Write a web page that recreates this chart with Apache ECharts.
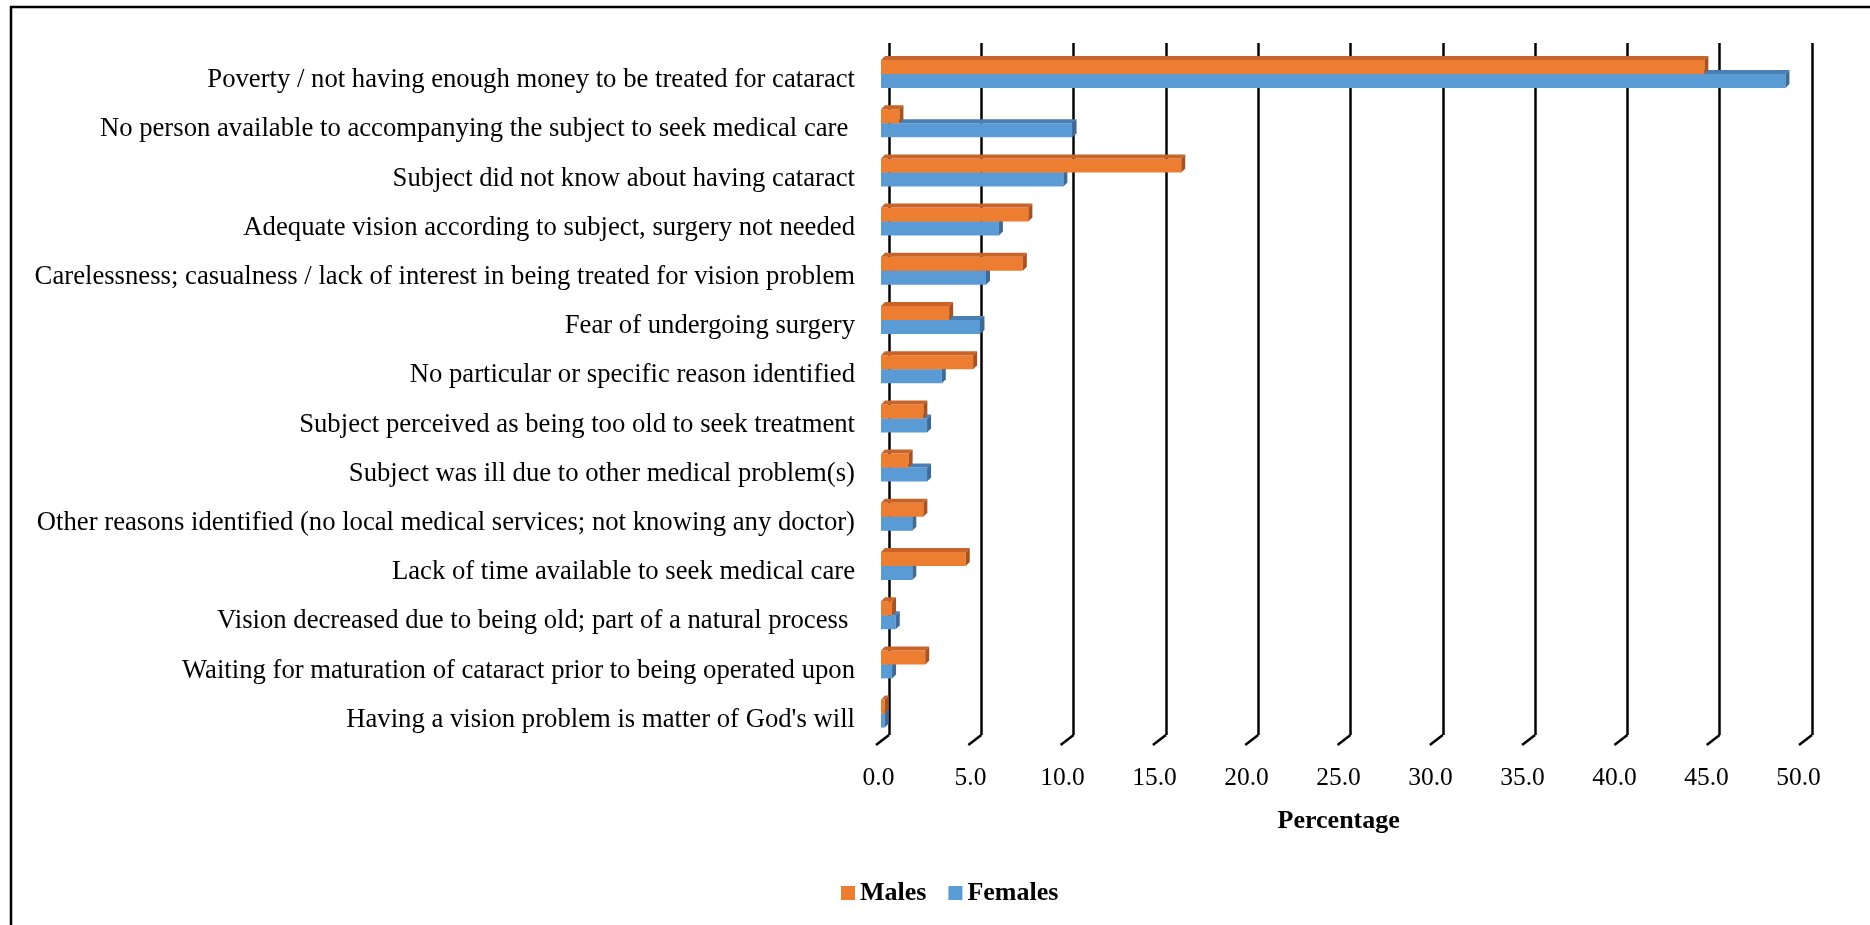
<!DOCTYPE html>
<html>
<head>
<meta charset="utf-8">
<script src="https://cdn.jsdelivr.net/npm/echarts@6/dist/echarts.min.js"></script>
<style>
html,body{margin:0;padding:0;background:#fff;}
#chart{width:1870px;height:925px;}
</style>
</head>
<body>
<div id="chart"></div>
<script>
var categories = [
  "Poverty / not having enough money to be treated for cataract",
  "No person available to accompanying the subject to seek medical care ",
  "Subject did not know about having cataract",
  "Adequate vision according to subject, surgery not needed",
  "Carelessness; casualness / lack of interest in being treated for vision problem",
  "Fear of undergoing surgery",
  "No particular or specific reason identified",
  "Subject perceived as being too old to seek treatment",
  "Subject was ill due to other medical problem(s)",
  "Other reasons identified (no local medical services; not knowing any doctor)",
  "Lack of time available to seek medical care",
  "Vision decreased due to being old; part of a natural process ",
  "Waiting for maturation of cataract prior to being operated upon",
  "Having a vision problem is matter of God's will"
];
var males   = [44.7, 1.0, 16.3, 8.0, 7.7, 3.7, 5.0, 2.3, 1.5, 2.3, 4.6, 0.6, 2.4, 0.2];
var females = [49.1, 10.4, 9.9, 6.4, 5.7, 5.4, 3.3, 2.5, 2.5, 1.7, 1.7, 0.8, 0.6, 0.2];
var ticks = [0, 5, 10, 15, 20, 25, 30, 35, 40, 45, 50];

var FONT = "'Liberation Serif', 'Times New Roman', serif";
var BW = 14;

function toData(arr) {
  return arr.map(function (v, i) { return [v, i]; });
}

function makeRender(off, front, topc, side) {
  return function (params, api) {
    var v = api.value(0), c = api.value(1);
    var p0 = api.coord([0, c]);
    var p1 = api.coord([v, c]);
    var y0 = p0[1] + off, y1 = y0 + BW;
    var x0 = p0[0], x1 = p1[0];
    var dx = 4, dy = -4;
    return {
      type: 'group',
      children: [
        {type: 'rect', shape: {x: x0, y: y0, width: x1 - x0, height: BW}, style: {fill: front}},
        {type: 'polygon', shape: {points: [[x0, y0], [x0 + dx, y0 + dy], [x1 + dx, y0 + dy], [x1, y0]]}, style: {fill: topc}},
        {type: 'polygon', shape: {points: [[x1, y0], [x1 + dx, y0 + dy], [x1 + dx, y1 + dy], [x1, y1]]}, style: {fill: side}}
      ]
    };
  };
}

var chart = echarts.init(document.getElementById('chart'));
chart.setOption({
  backgroundColor: '#fff',
  animation: false,
  grid: [
    {left: 881, width: 921, top: 49.4, height: 688.8, containLabel: false, outerBoundsMode: 'none'},
    {left: 889, width: 923, top: 43, height: 692, containLabel: false, outerBoundsMode: 'none'},
    {left: 878.5, width: 920, top: 49.4, height: 688.8, containLabel: false, outerBoundsMode: 'none'},
    {left: 881, width: 921, top: 55.6, height: 688.8, containLabel: false, outerBoundsMode: 'none'}
  ],
  xAxis: [
    {gridIndex: 0, type: 'value', min: 0, max: 50, interval: 5, show: false},
    {gridIndex: 1, type: 'value', min: 0, max: 50, interval: 5,
      axisLine: {show: false}, axisTick: {show: false}, axisLabel: {show: false},
      splitLine: {show: true, lineStyle: {color: '#000', width: 2.5}}},
    {gridIndex: 2, type: 'value', min: 0, max: 50, interval: 5,
      axisLine: {show: false}, axisTick: {show: false}, splitLine: {show: false},
      axisLabel: {show: true, margin: 27, color: '#000', fontSize: 25.5, fontFamily: FONT,
        formatter: function (v) { return v.toFixed(1); }}},
    {gridIndex: 3, type: 'value', min: 0, max: 50, interval: 5, show: false}
  ],
  yAxis: [
    {gridIndex: 0, type: 'category', data: categories, inverse: true, show: false},
    {gridIndex: 1, type: 'value', min: 0, max: 1, show: false},
    {gridIndex: 2, type: 'value', min: 0, max: 1, show: false},
    {gridIndex: 3, type: 'category', data: categories, inverse: true,
      axisLine: {show: false}, axisTick: {show: false}, splitLine: {show: false},
      axisLabel: {show: true, margin: 26, color: '#000', fontSize: 26.7, fontFamily: FONT}}
  ],
  legend: {
    data: [{name: 'Males', icon: 'rect'}, {name: 'Females', icon: 'rect'}],
    left: 836, top: 875, itemWidth: 14, itemHeight: 14, itemGap: 22,
    textStyle: {fontSize: 26, fontWeight: 'bold', fontFamily: FONT, color: '#000'}
  },
  graphic: [
    {type: 'rect', shape: {x: 11, y: 7, width: 1900, height: 1000}, style: {fill: 'none', stroke: '#000', lineWidth: 2.5}, silent: true},
    {type: 'text', x: 1338.7, y: 821, style: {text: 'Percentage', font: 'bold 26px ' + FONT, fill: '#000', textAlign: 'center', textVerticalAlign: 'middle'}}
  ],
  series: [
    {
      name: 'feet', type: 'custom', xAxisIndex: 1, yAxisIndex: 1, silent: true, z: 1,
      data: ticks.map(function (t) { return [t, 0]; }),
      renderItem: function (params, api) {
        var p = api.coord([api.value(0), 0]);
        return {type: 'line', shape: {x1: p[0], y1: p[1], x2: p[0] - 13, y2: p[1] + 10}, style: {stroke: '#000', lineWidth: 2.5}};
      }
    },
    {
      name: 'Females', type: 'custom', xAxisIndex: 0, yAxisIndex: 0, z: 3,
      itemStyle: {color: '#5B9BD5'},
      encode: {x: 0, y: 1},
      data: toData(females),
      renderItem: makeRender(0, '#5B9BD5', '#4a7fb3', '#3d6a96')
    },
    {
      name: 'Males', type: 'custom', xAxisIndex: 0, yAxisIndex: 0, z: 4,
      itemStyle: {color: '#ED7D31'},
      encode: {x: 0, y: 1},
      data: toData(males),
      renderItem: makeRender(-BW, '#ED7D31', '#c8632a', '#a9521f')
    }
  ]
});
</script>
</body>
</html>
